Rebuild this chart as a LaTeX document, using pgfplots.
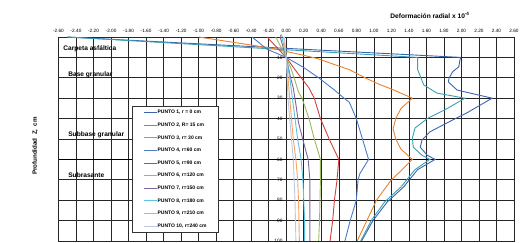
\documentclass[border=0pt]{standalone}
\usepackage{pgfplots}
\pgfplotsset{compat=1.18}
\usepackage{fontspec}
\setmainfont{Liberation Sans}
\definecolor{cA}{HTML}{3B64AD}
\definecolor{cB}{HTML}{3AA0B5}
\definecolor{cC}{HTML}{E8822E}
\definecolor{cD}{HTML}{4A7CC6}
\definecolor{cE}{HTML}{D0413D}
\definecolor{cF}{HTML}{9BBB59}
\definecolor{cG}{HTML}{8064A2}
\definecolor{cH}{HTML}{5BC3E0}
\definecolor{cI}{HTML}{F9A35E}
\definecolor{cJ}{HTML}{B8C9E3}
\begin{document}
\begin{tikzpicture}[x=1pt,y=1pt]
\path[use as bounding box] (0,0) rectangle (531,243);
\begin{axis}[
  at={(58.5pt,2pt)}, anchor=south west,
  scale only axis, width=455.5pt, height=204pt,
  xmin=-2.6, xmax=2.6, ymin=0, ymax=100, y dir=reverse,
  xticklabel pos=upper,
  xtick={-2.6,-2.4,-2.2,-2,-1.8,-1.6,-1.4,-1.2,-1,-0.8,-0.6,-0.4,-0.2,0,0.2,0.4,0.6,0.8,1,1.2,1.4,1.6,1.8,2,2.2,2.4,2.6},
  ytick={0,10,20,30,40,50,60,70,80,90,100},
  grid=major, major grid style={black!85, line width=0.6pt},
  axis line style={black!85, line width=0.6pt},
  tick style={draw=none},
  xticklabel style={font=\fontsize{4.7}{5}\selectfont, yshift=0.8pt, /pgf/number format/fixed, /pgf/number format/fixed zerofill, /pgf/number format/precision=2, /pgf/number format/assume math mode=true},
  yticklabel style={font=\fontsize{4.8}{5}\selectfont, xshift=227.5pt, /pgf/number format/assume math mode=true},
  every axis plot/.append style={line width=0.9pt},
  legend style={at={(0.1614,0.662)}, anchor=north west, draw=black!80, fill=white,
    font=\fontsize{5}{6}\selectfont\bfseries, row sep=6.7pt, inner xsep=11pt, inner ysep=3.5pt,
    nodes={inner sep=0.6pt, text height=3.7pt, text depth=1pt}},
  legend cell align=left,
  legend image code/.code={\draw[#1, line width=0.8pt] (0pt,0pt) -- (13pt,0pt);},
]
\draw[black, line width=1.3pt] (axis cs:-2.6,60) -- (axis cs:2.6,60);
\addplot[cA] coordinates {(-2.50,0) (1.99,10) (1.98,12) (1.97,14.6) (1.90,17) (1.86,20) (1.85,22) (1.95,26) (2.35,30) (2.07,37) (1.84,42) (1.64,46.5) (1.55,50.5) (1.53,54) (1.61,58) (1.70,60) (1.50,65) (1.34,73.5) (1.15,81) (0.99,90) (0.86,100)};
\addlegendentry{PUNTO 1, r = 0 cm}
\addplot[cB] coordinates {(-2.50,0) (1.50,10) (1.50,16) (1.57,23.5) (1.72,27.5) (2.04,30) (1.84,35) (1.61,40) (1.47,44.6) (1.44,49.5) (1.45,54) (1.55,58) (1.64,60) (1.47,65) (1.31,73.5) (1.12,81) (0.97,90) (0.85,100)};
\addlegendentry{PUNTO 2, R= 15 cm}
\addplot[cC] coordinates {(-1.00,0) (-0.18,5.4) (0.15,8.5) (0.35,10.5) (0.55,13.5) (0.72,16) (0.90,20) (1.05,23) (1.20,25.5) (1.44,30) (1.31,35) (1.25,40) (1.22,45) (1.25,50) (1.31,55) (1.44,60) (1.30,66) (1.20,70) (1.03,80) (0.92,90) (0.81,100)};
\addlegendentry{PUNTO 3, r= 30 cm}
\addplot[cD] coordinates {(-0.39,0) (-0.22,6) (0.00,10) (0.20,15) (0.37,20) (0.55,26) (0.66,30) (0.72,32) (0.80,40) (0.87,50) (0.94,60) (0.84,67) (0.82,70) (0.80,80) (0.73,90) (0.67,100)};
\addlegendentry{PUNTO 4, r=60 cm}
\addplot[cE] coordinates {(-0.22,0) (0.00,10) (0.10,16) (0.17,20) (0.26,25) (0.32,30) (0.39,40) (0.49,50) (0.60,60) (0.58,70) (0.55,80) (0.53,90) (0.50,100)};
\addlegendentry{PUNTO 5, r=90 cm}
\addplot[cF] coordinates {(-0.12,0) (0.00,10) (0.05,15) (0.09,20) (0.14,27) (0.18,30) (0.26,40) (0.32,50) (0.39,60) (0.39,70) (0.385,80) (0.38,90) (0.37,100)};
\addlegendentry{PUNTO 6, r=120 cm}
\addplot[cG] coordinates {(-0.07,0) (0.00,10) (0.05,20) (0.08,25) (0.11,33) (0.14,42) (0.20,52) (0.25,60) (0.27,70) (0.27,80) (0.27,90) (0.27,100)};
\addlegendentry{PUNTO 7, r=150 cm}
\addplot[cH] coordinates {(-0.05,0) (0.00,10) (0.04,20) (0.07,30) (0.10,40) (0.13,50) (0.17,60) (0.19,70) (0.20,80) (0.21,90) (0.21,100)};
\addlegendentry{PUNTO 8, r=180 cm}
\addplot[cI] coordinates {(-0.03,0) (0.00,10) (0.02,20) (0.04,30) (0.06,40) (0.08,50) (0.11,60) (0.13,70) (0.14,80) (0.145,90) (0.15,100)};
\addlegendentry{PUNTO 9, r=210 cm}
\addplot[cJ] coordinates {(-0.02,0) (0.00,10) (0.01,20) (0.02,30) (0.04,40) (0.06,50) (0.08,60) (0.09,70) (0.10,80) (0.105,90) (0.11,100)};
\addlegendentry{PUNTO 10, r=240 cm}
\node[anchor=west, font=\fontsize{6.6}{7}\selectfont\bfseries, inner sep=0pt] at (axis cs:-2.546,5.9) {Carpeta asfáltica};
\node[anchor=west, font=\fontsize{6.6}{7}\selectfont\bfseries, inner sep=0pt] at (axis cs:-2.49,18.6) {Base granular};
\node[anchor=west, font=\fontsize{6.6}{7}\selectfont\bfseries, inner sep=0pt] at (axis cs:-2.49,48) {Subbase granular};
\node[anchor=west, font=\fontsize{6.6}{7}\selectfont\bfseries, inner sep=0pt] at (axis cs:-2.49,67.6) {Subrasante};
\end{axis}
\node[rotate=90, font=\fontsize{6.2}{7}\selectfont\bfseries] at (35,97) {Profundidad\ \ Z,\ \ cm};
\node[font=\fontsize{6.6}{7}\selectfont\bfseries] at (430,228) {Deformación radial x 10\textsuperscript{-4}};
\end{tikzpicture}
\end{document}
